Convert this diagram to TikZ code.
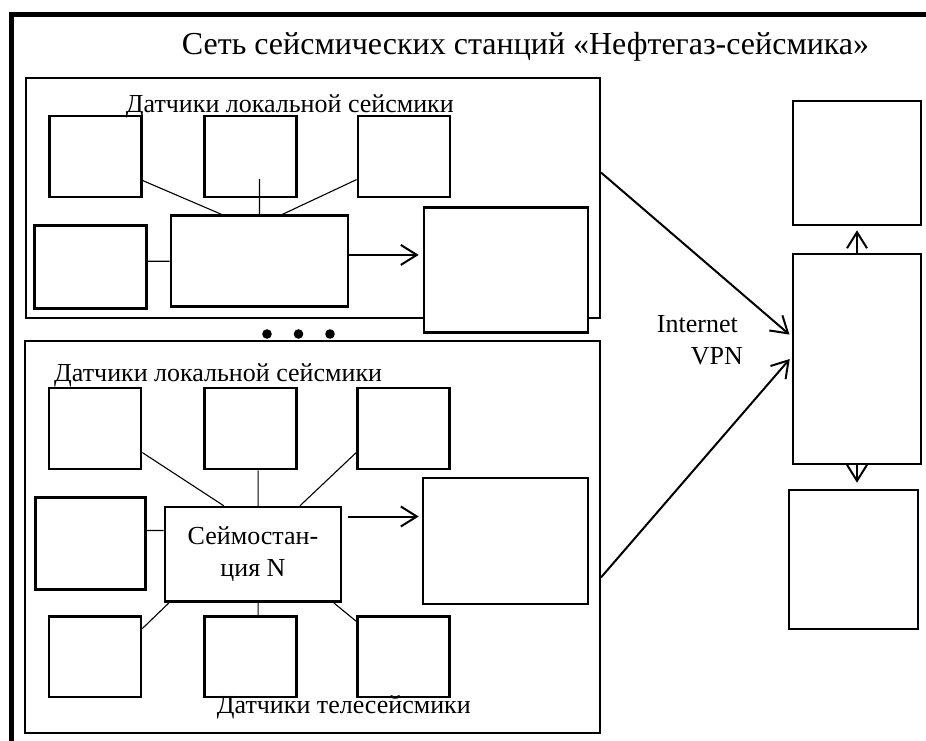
\documentclass[tikz,border=0pt]{standalone}
\usepackage{fontspec}
\setmainfont{Liberation Serif}
\usetikzlibrary{arrows.meta}

\begin{document}
\begin{tikzpicture}[x=1pt,y=-1pt,
    blk/.style={draw,line width=2pt,inner sep=0pt},
    dev/.style={draw,line width=2.6pt,fill=white,inner sep=0pt},
    sens/.style={dev,minimum width=92pt,minimum height=81pt},
    wire/.style={line width=1.1pt},
    link/.style={line width=2pt,-{Straight Barb[length=16pt,width=20pt]}},
    lbl/.style={inner sep=0pt,font=\fontsize{26}{32}\selectfont}]
    \useasboundingbox (0,0) rectangle (926,740);
    \clip (0,0) rectangle (926,740);
    \draw[line width=4.5pt] (11.5,14.5) rectangle (960,780);
    \node[lbl,font=\fontsize{32}{38}\selectfont,anchor=base] (ttl) at (525.5,54)
      {Сеть сейсмических станций «Нефтегаз-сейсмика»};

    % station 1
    \node[blk,minimum width=574.5pt,minimum height=239.5pt] (ublk) at (312.75,197.75) {};
    \node[sens] (u1) at (95.5,156.5) {};
    \node[sens] (u2) at (250.7,156.5) {};
    \node[sens] (u3) at (403.9,156.5) {};
    \node[dev,minimum width=111.5pt,minimum height=82.6pt] (ul) at (90.5,267) {};
    \node[dev,minimum width=177pt,minimum height=91pt] (ust) at (259.5,261.2) {};
    \node[dev,minimum width=164pt,minimum height=124.6pt] (ubox) at (506,270) {};
    \path (ust.north |- u2.center) ++(0,22.5) coordinate (u2tap);
    \draw[wire] (u1.-27.7) -- (ust.129.9)
      (ust.north) -- (u2tap)
      (u3.206.3) -- (ust.64.2)
      (ust.west) -- (ust.west -| ul.east);
    \draw[link,shorten >=4pt] (ust.4.65) -- (ust.4.65 -| ubox.west);
    \node[lbl,anchor=base west] (ulbl) at (125.7,112) {Датчики локальной сейсмики};

    \foreach \x in {267,298.5,330}
      \fill (\x,334) circle (4.8pt);

    % station N
    \node[blk,minimum width=575.5pt,minimum height=392.3pt] (lblk) at (312.25,536.85) {};
    \node[sens] (l1) at (95.1,428.5) {};
    \node[sens] (l2) at (250.7,428.5) {};
    \node[sens] (l3) at (403.5,428.5) {};
    \node[dev,minimum width=110pt,minimum height=91.6pt] (ll) at (90.5,543.5) {};
    \node[sens,minimum height=80.3pt] (b1) at (95.1,656.9) {};
    \node[sens,minimum height=80.3pt] (b2) at (250.7,656.9) {};
    \node[sens,minimum height=80.3pt] (b3) at (403.5,656.9) {};
    \node[dev,lbl,align=center,minimum width=176pt,minimum height=94.7pt] (nst) at (253,554.4)
      {Сеймостан-\\ция N};
    \node[dev,minimum width=165pt,minimum height=126pt] (lbox) at (505.5,541) {};
    \draw[wire] (l1.-27.8) -- (nst.121.5)
      (nst.84) -- (nst.84 |- l2.south)
      (l3.207.8) -- (nst.46.9)
      (nst.165.7) -- (nst.165.7 -| ll.east)
      (b1.31.9) -- (nst.210.5)
      (nst.-84) -- (nst.-84 |- b2.north)
      (b3.143.9) -- (nst.-31.1);
    \draw[link,shorten <=6pt,shorten >=3pt] (nst.23.7) -- (nst.23.7 -| lbox.west);
    \node[lbl,anchor=base west] (llbl) at (54,381) {Датчики локальной сейсмики};
    \node[lbl,anchor=base west] (tlbl) at (216.7,713) {Датчики телесейсмики};

    % centre
    \node[dev,minimum width=128pt,minimum height=124pt] (arch) at (857,163) {};
    \node[dev,minimum width=128pt,minimum height=210pt] (srv) at (857,359) {};
    \node[dev,minimum width=129pt,minimum height=139pt] (usr) at (853.5,559.5) {};
    \draw[link,shorten >=4pt] (srv.north) -- (srv.north |- arch.south);
    \draw[link,shorten >=6pt] (srv.south) -- (srv.south |- usr.north);
    \draw[link,shorten >=3pt] (ublk.5.5) -- (srv.161.8);
    \draw[link,shorten >=3pt] (lblk.-8.66) -- (srv.178.2);
    \node[lbl,anchor=base east] (inet) at (738,332) {Internet};
    \node[lbl,anchor=base east] (vpn) at (743,364) {VPN};
  \end{tikzpicture}
\end{document}
